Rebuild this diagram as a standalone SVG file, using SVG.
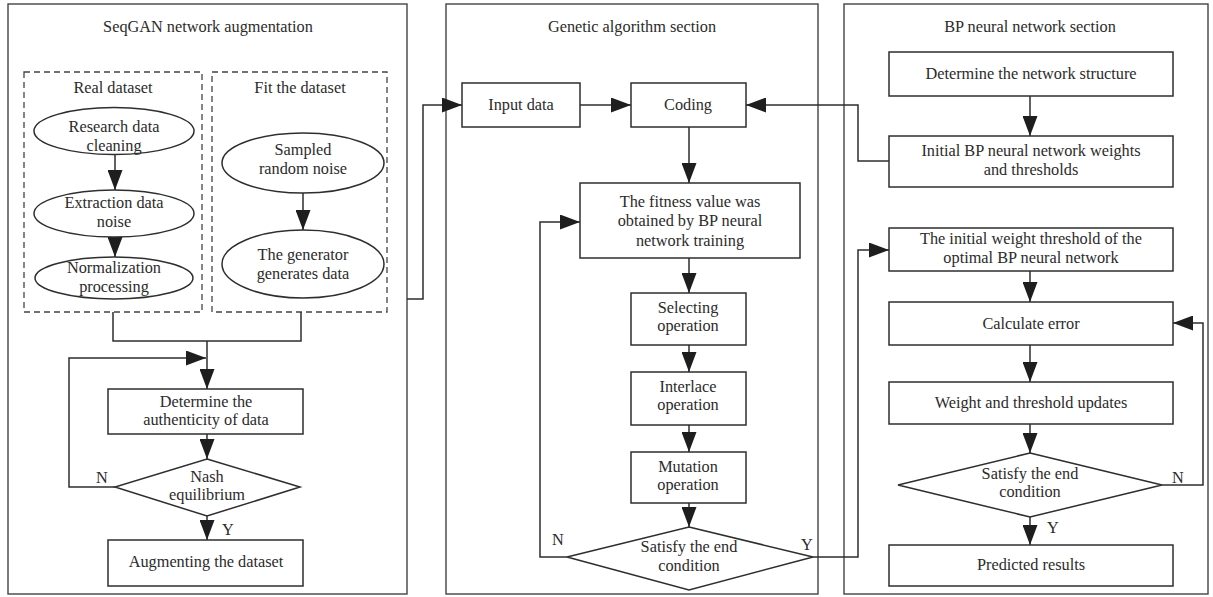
<svg xmlns="http://www.w3.org/2000/svg" width="1213" height="597" viewBox="0 0 1213 597">
  <defs>
    <marker id="arrow" viewBox="0 0 20 15" refX="20" refY="7.5" markerWidth="20" markerHeight="15" markerUnits="userSpaceOnUse" orient="auto">
      <path d="M0,0 L20,7.5 L0,15 z" fill="#1e1e1e"/>
    </marker>
    <style>
      .panel { fill: #fff; stroke: #444; stroke-width: 1.4; }
      .group { fill: none; stroke: #444; stroke-width: 1.3; stroke-dasharray: 6 4; }
      .node { fill: #fff; stroke: #2e2e2e; stroke-width: 1.5; }
      .link { fill: none; stroke: #2e2e2e; stroke-width: 1.5; }
      .arr { marker-end: url(#arrow); }
      text { font-family: "Liberation Serif", "Times New Roman", serif; font-size: 16.3px; fill: #2b2b2b; text-anchor: middle; }
    </style>
  </defs>
  <rect width="1213" height="597" fill="#fff"/>

  <!-- section frames -->
  <g id="panel-seqgan">
    <rect class="panel" x="8" y="4" width="399" height="590"/>
    <text x="208" y="32">SeqGAN network augmentation</text>
  </g>
  <g id="panel-ga">
    <rect class="panel" x="446" y="4" width="372" height="590"/>
    <text x="632" y="32">Genetic algorithm section</text>
  </g>
  <g id="panel-bp">
    <rect class="panel" x="844" y="4" width="364" height="590"/>
    <text x="1030" y="32">BP neural network section</text>
  </g>

  <!-- dashed sub-groups -->
  <g id="group-real">
    <rect class="group" x="24" y="72" width="178" height="240"/>
    <text x="113" y="93">Real dataset</text>
  </g>
  <g id="group-fit">
    <rect class="group" x="212" y="72" width="175" height="240"/>
    <text x="300" y="93">Fit the dataset</text>
  </g>

  <!-- connectors -->
  <g id="connectors">
    <!-- SeqGAN -->
    <line class="link arr" x1="115" y1="155" x2="115" y2="190"/>
    <line class="link arr" x1="115" y1="237" x2="115" y2="257"/>
    <line class="link arr" x1="303" y1="193" x2="303" y2="230"/>
    <polyline class="link" points="113,312 113,341 301,341 301,312"/>
    <line class="link arr" x1="207" y1="341" x2="207" y2="389"/>
    <polyline class="link arr" points="115,487 69,487 69,358 206,358"/>
    <line class="link arr" x1="207" y1="434" x2="207" y2="459"/>
    <line class="link arr" x1="207" y1="516" x2="207" y2="540"/>
    <!-- SeqGAN to GA -->
    <polyline class="link arr" points="407,299 423,299 423,105 462,105"/>
    <!-- GA -->
    <line class="link arr" x1="580" y1="105" x2="631" y2="105"/>
    <line class="link arr" x1="689" y1="127" x2="689" y2="183"/>
    <line class="link arr" x1="689" y1="258" x2="689" y2="293"/>
    <line class="link arr" x1="689" y1="345" x2="689" y2="372"/>
    <line class="link arr" x1="689" y1="425" x2="689" y2="452"/>
    <line class="link arr" x1="689" y1="503" x2="689" y2="527"/>
    <polyline class="link arr" points="567,557 540,557 540,222 580,222"/>
    <!-- BP to GA coding -->
    <polyline class="link arr" points="889,161 858,161 858,105 746,105"/>
    <!-- GA result to BP -->
    <polyline class="link arr" points="813,557 858,557 858,250 889,250"/>
    <!-- BP -->
    <line class="link arr" x1="1030" y1="96" x2="1030" y2="136"/>
    <line class="link arr" x1="1030" y1="271" x2="1030" y2="302"/>
    <line class="link arr" x1="1030" y1="345" x2="1030" y2="382"/>
    <line class="link arr" x1="1030" y1="424" x2="1030" y2="453"/>
    <line class="link arr" x1="1030" y1="517" x2="1030" y2="545"/>
    <polyline class="link arr" points="1162,485 1203,485 1203,323 1173,323"/>
    <!-- branch labels -->
    <text x="102" y="483">N</text>
    <text x="228" y="535">Y</text>
    <text x="558" y="545">N</text>
    <text x="807" y="550">Y</text>
    <text x="1178" y="483">N</text>
    <text x="1053" y="533">Y</text>
  </g>

  <!-- SeqGAN nodes -->
  <g id="n-clean">
    <ellipse class="node" cx="114" cy="131" rx="80" ry="23.5"/>
    <text x="114" y="132">Research data</text>
    <text x="114" y="151">cleaning</text>
  </g>
  <g id="n-noise">
    <ellipse class="node" cx="114" cy="213.5" rx="80" ry="23.5"/>
    <text x="114" y="208">Extraction data</text>
    <text x="114" y="227">noise</text>
  </g>
  <g id="n-norm">
    <ellipse class="node" cx="114" cy="278" rx="79" ry="21"/>
    <text x="114" y="273">Normalization</text>
    <text x="114" y="292">processing</text>
  </g>
  <g id="n-sample">
    <ellipse class="node" cx="303" cy="163" rx="81" ry="30"/>
    <text x="303" y="155">Sampled</text>
    <text x="303" y="174">random noise</text>
  </g>
  <g id="n-generate">
    <ellipse class="node" cx="303" cy="264" rx="81" ry="34"/>
    <text x="303" y="260">The generator</text>
    <text x="303" y="279">generates data</text>
  </g>
  <g id="n-authentic">
    <rect class="node" x="108" y="389" width="195" height="45"/>
    <text x="206" y="407">Determine the</text>
    <text x="206" y="425">authenticity of data</text>
  </g>
  <g id="n-nash">
    <polygon class="node" points="207,459 300,487 207,516 115,487"/>
    <text x="207" y="482">Nash</text>
    <text x="207" y="500">equilibrium</text>
  </g>
  <g id="n-augment">
    <rect class="node" x="108" y="540" width="195" height="46"/>
    <text x="206" y="567">Augmenting the dataset</text>
  </g>

  <!-- GA nodes -->
  <g id="n-input">
    <rect class="node" x="462" y="83" width="118" height="44"/>
    <text x="521" y="110">Input data</text>
  </g>
  <g id="n-coding">
    <rect class="node" x="631" y="83" width="115" height="44"/>
    <text x="688" y="110">Coding</text>
  </g>
  <g id="n-fitness">
    <rect class="node" x="580" y="183" width="220" height="75"/>
    <text x="690" y="207">The fitness value was</text>
    <text x="690" y="226">obtained by BP neural</text>
    <text x="690" y="246">network training</text>
  </g>
  <g id="n-select">
    <rect class="node" x="631" y="293" width="115" height="52"/>
    <text x="688" y="313">Selecting</text>
    <text x="688" y="331">operation</text>
  </g>
  <g id="n-interlace">
    <rect class="node" x="631" y="372" width="115" height="53"/>
    <text x="688" y="392">Interlace</text>
    <text x="688" y="410">operation</text>
  </g>
  <g id="n-mutation">
    <rect class="node" x="631" y="452" width="115" height="51"/>
    <text x="688" y="472">Mutation</text>
    <text x="688" y="490">operation</text>
  </g>
  <g id="n-ga-end">
    <polygon class="node" points="689,527 813,557 689,590 567,557"/>
    <text x="689" y="552">Satisfy the end</text>
    <text x="689" y="571">condition</text>
  </g>

  <!-- BP nodes -->
  <g id="n-structure">
    <rect class="node" x="889" y="52" width="284" height="44"/>
    <text x="1031" y="79">Determine the network structure</text>
  </g>
  <g id="n-init">
    <rect class="node" x="889" y="136" width="284" height="51"/>
    <text x="1031" y="156">Initial BP neural network weights</text>
    <text x="1031" y="175">and thresholds</text>
  </g>
  <g id="n-optimal">
    <rect class="node" x="889" y="228" width="284" height="43"/>
    <text x="1031" y="244">The initial weight threshold of the</text>
    <text x="1031" y="263">optimal BP neural network</text>
  </g>
  <g id="n-error">
    <rect class="node" x="889" y="302" width="284" height="43"/>
    <text x="1031" y="329">Calculate error</text>
  </g>
  <g id="n-update">
    <rect class="node" x="889" y="382" width="284" height="42"/>
    <text x="1031" y="408">Weight and threshold updates</text>
  </g>
  <g id="n-bp-end">
    <polygon class="node" points="1030,453 1162,485 1030,517 898,485"/>
    <text x="1030" y="479">Satisfy the end</text>
    <text x="1030" y="497">condition</text>
  </g>
  <g id="n-predict">
    <rect class="node" x="889" y="545" width="284" height="41"/>
    <text x="1031" y="570">Predicted results</text>
  </g>
</svg>
